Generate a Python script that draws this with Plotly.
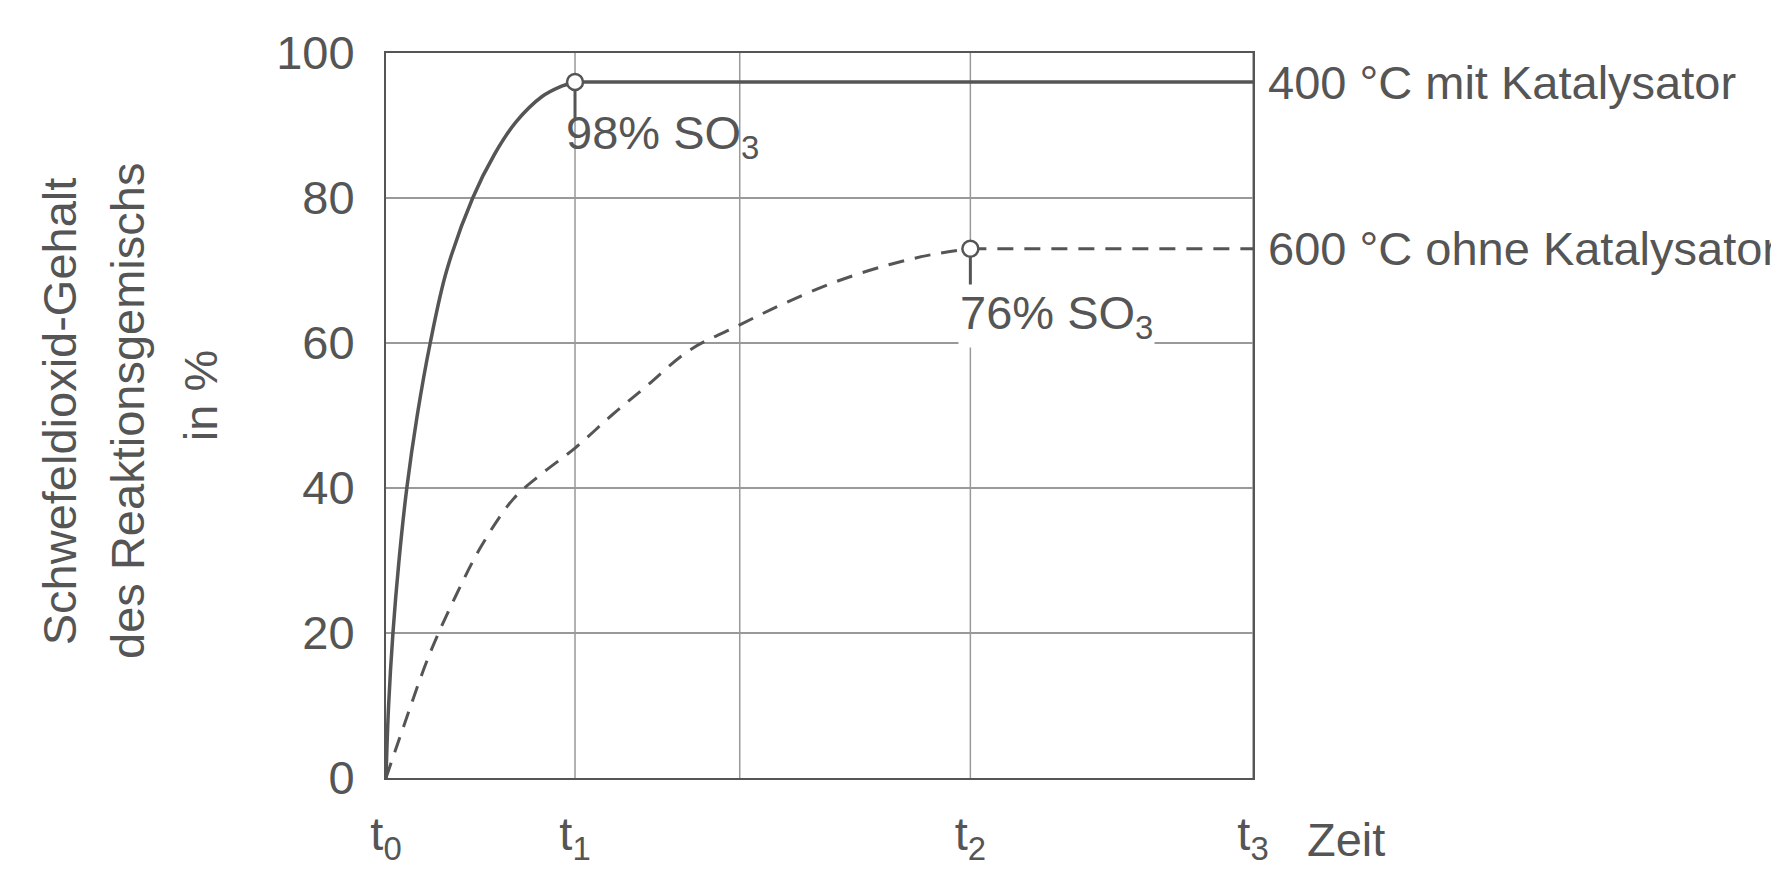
import plotly.graph_objects as go

# time as fraction of t3
t_ticks = [0, 0.218, 0.674, 1.0]
t_labels = ["t<sub>0</sub>", "t<sub>1</sub>", "t<sub>2</sub>", "t<sub>3</sub>"]
grid_x = [0.218, 0.408, 0.674, 1.0]

cat_x = [0, 0.003, 0.008, 0.015, 0.024, 0.036, 0.051, 0.07, 0.1, 0.125, 0.15, 0.18, 0.2, 0.218, 1.0]
cat_y = [0, 10, 20, 30, 40, 50, 60, 70, 80, 86, 90.5, 94, 95.3, 96, 96]

nocat_x = [0, 0.02, 0.05, 0.08, 0.11, 0.147, 0.18, 0.218, 0.26, 0.3, 0.35, 0.408, 0.46, 0.52, 0.58, 0.63, 0.674, 1.0]
nocat_y = [0, 7, 17, 25, 32, 38.5, 42, 45.5, 50, 54, 59, 62.5, 65.5, 68.5, 70.8, 72.2, 73, 73]

marks_x = [0.218, 0.674]
marks_y = [96, 73]

y_title = ["Schwefeldioxid-Gehalt", "des Reaktionsgemischs", "in %"]
y_title_x = [-0.377, -0.299, -0.213]
y_title_y = [0.506, 0.506, 0.527]

gray = "#555555"
font = "Liberation Sans, Arial, sans-serif"

fig = go.Figure()
# rising parts (smoothed) and flat plateaus (straight)
fig.add_trace(go.Scatter(x=cat_x[:-1], y=cat_y[:-1], mode="lines", line=dict(color=gray, width=3.5, shape="spline")))
fig.add_trace(go.Scatter(x=cat_x[-2:], y=cat_y[-2:], mode="lines", line=dict(color=gray, width=3.5)))
fig.add_trace(go.Scatter(x=nocat_x[:-1], y=nocat_y[:-1], mode="lines",
                         line=dict(color=gray, width=3, dash="16px,11px", shape="spline")))
fig.add_trace(go.Scatter(x=nocat_x[-2:], y=nocat_y[-2:], mode="lines",
                         line=dict(color=gray, width=3, dash="16px,11px")))
# short ticks below the markers
for mx, my in zip(marks_x, marks_y):
    fig.add_trace(go.Scatter(x=[mx, mx], y=[my, my - 5], mode="lines", line=dict(color=gray, width=3)))
fig.add_trace(go.Scatter(x=marks_x, y=marks_y, mode="markers",
                         marker=dict(size=16, color="white", line=dict(color=gray, width=2.5))))

for gx in grid_x:
    fig.add_vline(x=gx, line_color="#999999", line_width=1.5, layer="below")

big = dict(family=font, size=47, color=gray)
fig.add_annotation(x=0.205, y=96, xref="x", yref="y", text="98% SO<sub>3</sub>", showarrow=False,
                   xanchor="left", yanchor="top", yshift=-22, font=big)
fig.add_annotation(x=0.66, y=73, xref="x", yref="y", text="76% SO<sub>3</sub>", showarrow=False,
                   xanchor="left", yanchor="top", yshift=-35, font=big, bgcolor="white")
fig.add_annotation(x=1.015, y=96, xref="paper", yref="y", text="400 °C mit Katalysator", showarrow=False,
                   xanchor="left", font=big)
fig.add_annotation(x=1.015, y=73, xref="paper", yref="y", text="600 °C ohne Katalysator", showarrow=False,
                   xanchor="left", font=big)
fig.add_annotation(x=1.06, y=-0.085, xref="paper", yref="paper", text="Zeit", showarrow=False,
                   xanchor="left", yanchor="middle", font=big)
for txt, tx, ty in zip(y_title, y_title_x, y_title_y):
    fig.add_annotation(x=tx, y=ty, xref="paper", yref="paper", textangle=-90, showarrow=False,
                       xanchor="center", yanchor="middle", text=txt, font=big)

fig.update_layout(
    width=1779, height=884, showlegend=False,
    plot_bgcolor="white", paper_bgcolor="white",
    margin=dict(l=378, r=534, t=45, b=114),
    xaxis=dict(range=[0, 1], tickvals=t_ticks, ticktext=t_labels, showgrid=False, zeroline=False,
               showline=True, mirror=True, linecolor=gray, linewidth=2, ticks="",
               tickfont=big, ticklabelstandoff=14),
    yaxis=dict(range=[0, 100], tickvals=[0, 20, 40, 60, 80, 100], showgrid=True, gridcolor="#999999",
               gridwidth=1.5, zeroline=False, showline=True, mirror=True, linecolor=gray, linewidth=2,
               ticks="", tickfont=big, ticklabelstandoff=20),
)
fig.write_html("out.html")
